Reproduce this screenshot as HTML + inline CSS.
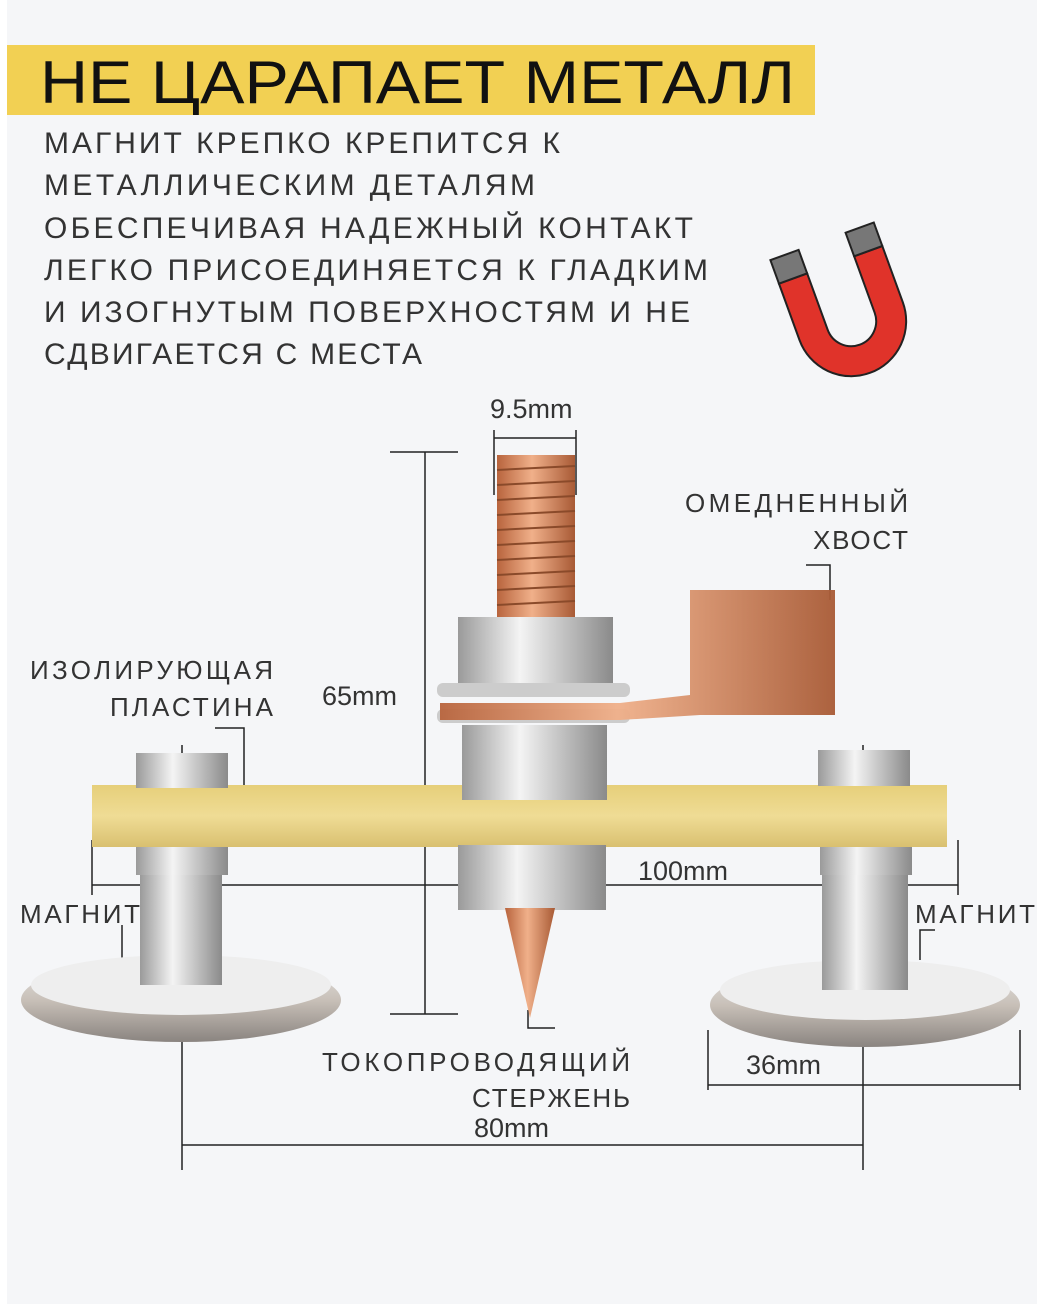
<!DOCTYPE html>
<html><head><meta charset="utf-8"><style>
html,body{margin:0;padding:0;background:#fff}
svg{display:block}
text{font-family:"Liberation Sans","DejaVu Sans",sans-serif}
</style></head><body>
<svg width="1044" height="1304" viewBox="0 0 1044 1304" xmlns="http://www.w3.org/2000/svg">
<defs>
<linearGradient id="cu" x1="0" x2="1"><stop offset="0" stop-color="#b8643d"/><stop offset=".45" stop-color="#f0b08a"/><stop offset="1" stop-color="#a85a35"/></linearGradient>
<linearGradient id="st" x1="0" x2="1"><stop offset="0" stop-color="#9a9a9a"/><stop offset=".4" stop-color="#f4f4f4"/><stop offset="1" stop-color="#8a8a8a"/></linearGradient>
<linearGradient id="base" x1="0" y1="0" x2="0" y2="1"><stop offset="0" stop-color="#e6e6e6"/><stop offset=".5" stop-color="#c8c0b8"/><stop offset="1" stop-color="#8a8480"/></linearGradient>
<linearGradient id="ins" x1="0" y1="0" x2="0" y2="1"><stop offset="0" stop-color="#e6cf7a"/><stop offset=".5" stop-color="#efdc95"/><stop offset="1" stop-color="#d9c070"/></linearGradient>
</defs>
<rect x="0" y="0" width="1044" height="1304" fill="#f5f6f8"/>
<rect x="0" y="0" width="7" height="1304" fill="#fff"/>
<rect x="1037" y="0" width="7" height="1304" fill="#fff"/>
<rect x="7" y="45" width="808" height="70" fill="#f2d053"/>
<text x="40" y="103" font-size="60" fill="#111" textLength="755" lengthAdjust="spacingAndGlyphs">НЕ ЦАРАПАЕТ МЕТАЛЛ</text>
<g font-size="30" fill="#333" lengthAdjust="spacingAndGlyphs">
<text x="44" y="153" textLength="516">МАГНИТ КРЕПКО КРЕПИТСЯ К</text>
<text x="44" y="195" textLength="491">МЕТАЛЛИЧЕСКИМ ДЕТАЛЯМ</text>
<text x="44" y="238" textLength="649">ОБЕСПЕЧИВАЯ НАДЕЖНЫЙ КОНТАКТ</text>
<text x="44" y="280" textLength="664">ЛЕГКО ПРИСОЕДИНЯЕТСЯ К ГЛАДКИМ</text>
<text x="44" y="322" textLength="646">И ИЗОГНУТЫМ ПОВЕРХНОСТЯМ И НЕ</text>
<text x="44" y="364" textLength="378">СДВИГАЕТСЯ С МЕСТА</text>
</g>
<!-- magnet icon -->
<g transform="translate(858,340) rotate(-20)">
<path d="M-55,-80 L-55,-20 A55,55 0 0 0 55,-20 L55,-80 L25,-80 L25,-20 A25,25 0 0 1 -25,-20 L-25,-80 Z" fill="#e0332a" stroke="#222" stroke-width="2"/>
<rect x="-55" y="-105" width="30" height="25" fill="#777" stroke="#222" stroke-width="2"/>
<rect x="25" y="-105" width="30" height="25" fill="#777" stroke="#222" stroke-width="2"/>
</g>
<!-- dimension lines -->
<g stroke="#222" stroke-width="1.5" fill="none">
<line x1="494" y1="430" x2="494" y2="495"/><line x1="576" y1="430" x2="576" y2="495"/><line x1="494" y1="438" x2="576" y2="438"/>
<line x1="390" y1="452" x2="458" y2="452"/><line x1="390" y1="1014" x2="458" y2="1014"/><line x1="425" y1="452" x2="425" y2="1014"/>
<line x1="92" y1="840" x2="92" y2="895"/><line x1="958" y1="840" x2="958" y2="895"/><line x1="92" y1="885" x2="958" y2="885"/>
<line x1="182" y1="745" x2="182" y2="1170"/><line x1="863" y1="745" x2="863" y2="1170"/><line x1="182" y1="1145" x2="863" y2="1145"/>
<line x1="708" y1="1030" x2="708" y2="1090"/><line x1="1020" y1="1030" x2="1020" y2="1090"/><line x1="708" y1="1085" x2="1020" y2="1085"/>
<polyline points="215,728 244,728 244,790"/>
<polyline points="806,565 830,565 830,600"/>
<polyline points="122,925 122,960"/>
<polyline points="935,930 920,930 920,960"/>
<polyline points="528,1010 528,1028 555,1028"/>
</g>
<!-- magnets bases -->
<ellipse cx="181" cy="1000" rx="160" ry="42" fill="url(#base)"/>
<ellipse cx="181" cy="985" rx="150" ry="30" fill="#eee"/>
<rect x="140" y="870" width="82" height="115" fill="url(#st)"/>
<ellipse cx="865" cy="1005" rx="155" ry="42" fill="url(#base)"/>
<ellipse cx="865" cy="990" rx="145" ry="30" fill="#eee"/>
<rect x="822" y="870" width="86" height="120" fill="url(#st)"/>
<rect x="136" y="845" width="92" height="30" fill="url(#st)"/>
<rect x="820" y="845" width="92" height="30" fill="url(#st)"/>
<!-- insulating plate -->
<rect x="92" y="785" width="855" height="62" fill="url(#ins)"/>
<!-- bolts on plate -->
<rect x="136" y="753" width="92" height="35" fill="url(#st)"/>
<rect x="818" y="750" width="92" height="36" fill="url(#st)"/>
<!-- center stud -->
<rect x="497" y="455" width="78" height="175" fill="url(#cu)"/>
<g stroke="#8a4a2a" stroke-width="2">
<line x1="497" y1="470" x2="575" y2="466"/><line x1="497" y1="485" x2="575" y2="481"/><line x1="497" y1="500" x2="575" y2="496"/><line x1="497" y1="515" x2="575" y2="511"/><line x1="497" y1="530" x2="575" y2="526"/><line x1="497" y1="545" x2="575" y2="541"/><line x1="497" y1="560" x2="575" y2="556"/><line x1="497" y1="575" x2="575" y2="571"/><line x1="497" y1="590" x2="575" y2="586"/><line x1="497" y1="605" x2="575" y2="601"/>
</g>
<rect x="458" y="617" width="155" height="70" fill="url(#st)"/>
<rect x="437" y="683" width="193" height="14" rx="6" fill="#ccc"/>
<rect x="437" y="709" width="193" height="14" rx="6" fill="#ccc"/>
<rect x="462" y="725" width="145" height="75" fill="url(#st)"/>
<rect x="458" y="845" width="148" height="65" fill="url(#st)"/>
<path d="M505,908 L555,908 L530,1018 Z" fill="url(#cu)"/>
<!-- copper tail -->
<path d="M440,703 L620,703 L690,695 L690,590 L835,590 L835,715 L700,715 L620,720 L440,720 Z" fill="url(#cu)" opacity=".95"/>
<!-- labels -->
<g font-size="27" fill="#333">
<text x="490" y="418">9.5mm</text>
<text x="322" y="705">65mm</text>
<text x="638" y="880">100mm</text>
<text x="746" y="1074">36mm</text>
<text x="474" y="1137">80mm</text>
</g>
<g font-size="26" fill="#333" lengthAdjust="spacingAndGlyphs">
<text x="685" y="512" textLength="223">ОМЕДНЕННЫЙ</text>
<text x="813" y="549" textLength="95">ХВОСТ</text>
<text x="30" y="679" textLength="243">ИЗОЛИРУЮЩАЯ</text>
<text x="110" y="716" textLength="163">ПЛАСТИНА</text>
<text x="20" y="923" textLength="120">МАГНИТ</text>
<text x="915" y="923" textLength="120">МАГНИТ</text>
<text x="322" y="1071" textLength="308">ТОКОПРОВОДЯЩИЙ</text>
<text x="472" y="1107" textLength="158">СТЕРЖЕНЬ</text>
</g>
</svg>
</body></html>
